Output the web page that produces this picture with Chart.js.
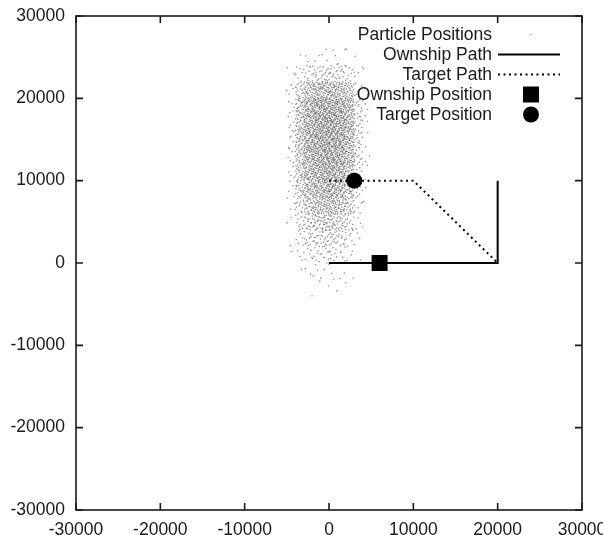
<!DOCTYPE html>
<html>
<head>
<meta charset="utf-8">
<script src="https://cdn.jsdelivr.net/npm/chart.js@4/dist/chart.umd.min.js"></script>
<style>
  html, body { margin: 0; padding: 0; background: #fff; }
  #wrap { width: 603px; height: 535px; }
</style>
</head>
<body>
<div id="wrap"><canvas id="trackChart"></canvas></div>
<script>
// axis ticks
var tickValues = [-30000, -20000, -10000, 0, 10000, 20000, 30000];

// ownship / target paths and current positions
var ownshipPathX = [0, 20000, 20000];
var ownshipPathY = [0, 0, 10000];
var targetPathX  = [0, 10000, 20000];
var targetPathY  = [10000, 10000, 0];
var ownshipPosX  = [6000];
var ownshipPosY  = [0];
var targetPosX   = [3000];
var targetPosY   = [10000];

// particle cloud, read off the picture as a density grid
// (cell centres; each cell 1000 wide, 2000 high)
var particleColX = [-4500, -3500, -2500, -1500, -500, 500, 1500, 2500, 3500, 4500];
var particleRowY = [25000, 23000, 21000, 19000, 17000, 15000, 13000, 11000, 9000, 7000, 5000, 3000, 1000, -1000, -3000];
var particleCounts = [
  [0, 1, 2, 2, 3, 3, 2, 1, 1, 0],
  [2, 6, 10, 13, 14, 14, 12, 8, 3, 1],
  [4, 18, 32, 38, 40, 40, 36, 26, 8, 1],
  [5, 26, 44, 52, 55, 55, 50, 38, 12, 2],
  [5, 28, 46, 54, 57, 57, 52, 40, 13, 2],
  [5, 28, 46, 54, 57, 57, 52, 40, 13, 2],
  [5, 26, 44, 52, 55, 55, 50, 38, 12, 2],
  [4, 24, 40, 48, 52, 52, 46, 34, 11, 2],
  [4, 20, 34, 42, 46, 46, 40, 28, 9, 1],
  [3, 14, 26, 32, 36, 36, 30, 20, 6, 1],
  [2, 9, 17, 22, 25, 25, 20, 12, 4, 0],
  [1, 6, 11, 14, 16, 16, 12, 7, 2, 0],
  [1, 3, 6, 8, 9, 8, 6, 3, 1, 0],
  [0, 1, 2, 3, 3, 3, 2, 1, 0, 0],
  [0, 0, 1, 1, 1, 1, 1, 0, 0, 0]
];

function toPoints(xs, ys) {
  return xs.map(function (x, i) { return { x: x, y: ys[i] } })
}

// van der Corput radical inverse, used to spread a cell's points evenly
function radInv(n, base) {
  var f = 1, r = 0
  while (n > 0) { f /= base; r += f * (n % base); n = Math.floor(n / base) }
  return r
}

// each cell gets its count of points, spread inside the cell (Halton 2/3, no randomness)
var particles = []
var k = 17
particleRowY.forEach(function (cy, r) {
  particleColX.forEach(function (cx, c) {
    for (var i = 0; i < particleCounts[r][c]; i++) {
      k++
      particles.push({ x: cx - 500 + radInv(k, 2) * 1000, y: cy - 1000 + radInv(k, 3) * 2000 })
    }
    k += 7
  })
})

var FONT = '"Liberation Sans", Arial, Helvetica, sans-serif'
var INK = '#1a1a1a'

// gnuplot-like frame with inward ticks on all four sides
var framePlugin = {
  id: 'frame',
  beforeDatasetsDraw: function (chart) {
    var ctx = chart.ctx, a = chart.chartArea
    var xs = chart.scales.x, ys = chart.scales.y
    var tl = 7
    ctx.save()
    ctx.strokeStyle = INK
    ctx.lineWidth = 1.6
    ctx.beginPath()
    tickValues.forEach(function (v) {
      var px = xs.getPixelForValue(v)
      ctx.moveTo(px, a.bottom); ctx.lineTo(px, a.bottom - tl)
      ctx.moveTo(px, a.top); ctx.lineTo(px, a.top + tl)
      var py = ys.getPixelForValue(v)
      ctx.moveTo(a.left, py); ctx.lineTo(a.left + tl, py)
      ctx.moveTo(a.right, py); ctx.lineTo(a.right - tl, py)
    })
    ctx.stroke()
    ctx.strokeRect(a.left, a.top, a.right - a.left, a.bottom - a.top)
    ctx.restore()
  }
}

// key in the top-right corner: right-aligned titles, samples to the right
var keyPlugin = {
  id: 'key',
  afterDatasetsDraw: function (chart) {
    var ctx = chart.ctx
    var textRight = 492, sampleL = 498, sampleR = 560, sampleC = 531
    var rowTop = 34.5, rowStep = 20
    ctx.save()
    ctx.font = '17.5px ' + FONT
    ctx.textAlign = 'right'
    ctx.textBaseline = 'middle'
    chart.data.datasets.forEach(function (ds, i) {
      var y = rowTop + i * rowStep
      ctx.fillStyle = INK
      ctx.fillText(ds.label, textRight, y + 1)
      ctx.strokeStyle = ds.borderColor
      ctx.fillStyle = ds.pointBackgroundColor || ds.backgroundColor
      if (ds.showLine) {
        ctx.lineWidth = ds.borderWidth
        ctx.setLineDash(ds.borderDash || [])
        ctx.beginPath(); ctx.moveTo(sampleL, y); ctx.lineTo(sampleR, y); ctx.stroke()
        ctx.setLineDash([])
      } else if (ds.pointStyle === 'rect') {
        var s = ds.pointRadius * Math.SQRT1_2
        ctx.fillRect(sampleC - s, y - s, 2 * s, 2 * s)
      } else {
        ctx.beginPath(); ctx.arc(sampleC, y, ds.pointRadius, 0, Math.PI * 2); ctx.fill()
      }
    })
    ctx.restore()
  }
}

var ctx = document.getElementById('trackChart').getContext('2d')
var trackChart = new Chart(ctx, {
  type: 'scatter',
  data: {
    datasets: [
      {
        label: 'Particle Positions',
        data: particles,
        pointRadius: 0.8,
        pointHoverRadius: 0.8,
        pointBorderWidth: 0,
        borderColor: 'rgba(0,0,0,0.42)',
        pointBackgroundColor: 'rgba(0,0,0,0.42)',
        order: 5
      },
      {
        label: 'Ownship Path',
        data: toPoints(ownshipPathX, ownshipPathY),
        showLine: true,
        borderColor: '#000',
        borderWidth: 2,
        pointRadius: 0,
        order: 4
      },
      {
        label: 'Target Path',
        data: toPoints(targetPathX, targetPathY),
        showLine: true,
        borderColor: '#000',
        borderWidth: 2,
        borderDash: [2, 3.5],
        pointRadius: 0,
        order: 3
      },
      {
        label: 'Ownship Position',
        data: toPoints(ownshipPosX, ownshipPosY),
        pointStyle: 'rect',
        pointRadius: 11.3,
        pointBorderWidth: 0,
        borderColor: '#000',
        pointBackgroundColor: '#000',
        order: 2
      },
      {
        label: 'Target Position',
        data: toPoints(targetPosX, targetPosY),
        pointStyle: 'circle',
        pointRadius: 8,
        pointBorderWidth: 0,
        borderColor: '#000',
        pointBackgroundColor: '#000',
        order: 1
      }
    ]
  },
  options: {
    responsive: true,
    maintainAspectRatio: false,
    animation: false,
    layout: { padding: { top: 16, right: 21, left: 0, bottom: 0 } },
    plugins: {
      legend: { display: false },
      tooltip: { enabled: false }
    },
    scales: {
      x: {
        type: 'linear',
        min: -30000,
        max: 30000,
        grid: { display: false, drawTicks: false },
        border: { display: false },
        afterBuildTicks: function (s) { s.ticks = tickValues.map(function (v) { return { value: v } }) },
        afterFit: function (s) { s.height = 25; s.paddingLeft = 0; s.paddingRight = 0 },
        ticks: {
          padding: 10,
          maxRotation: 0,
          autoSkip: false,
          color: INK,
          font: { family: FONT, size: 17.5 },
          callback: function (v) { return String(v) }
        }
      },
      y: {
        type: 'linear',
        min: -30000,
        max: 30000,
        grid: { display: false, drawTicks: false },
        border: { display: false },
        afterBuildTicks: function (s) { s.ticks = tickValues.map(function (v) { return { value: v } }) },
        afterFit: function (s) { s.width = 76; s.paddingTop = 0; s.paddingBottom = 0 },
        ticks: {
          padding: 11,
          autoSkip: false,
          color: INK,
          font: { family: FONT, size: 17.5 },
          callback: function (v) { return String(v) }
        }
      }
    }
  },
  plugins: [framePlugin, keyPlugin]
})
</script>
</body>
</html>
